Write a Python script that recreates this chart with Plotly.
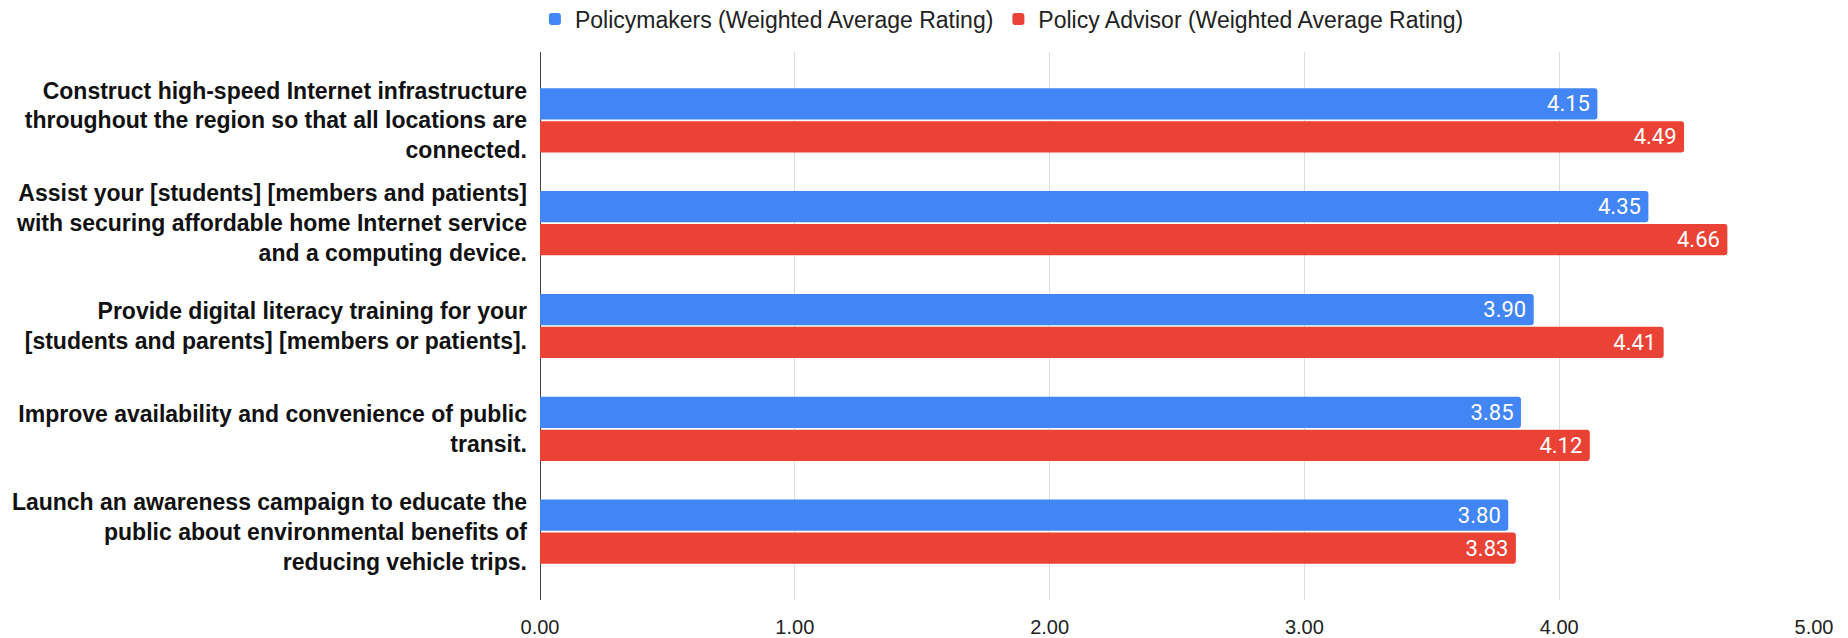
import plotly.graph_objects as go

# Survey strategies (top to bottom) and weighted average ratings
categories = [
    "Construct high-speed Internet infrastructure<br>throughout the region so that all locations are<br>connected.",
    "Assist your [students] [members and patients]<br>with securing affordable home Internet service<br>and a computing device.",
    "Provide digital literacy training for your<br>[students and parents] [members or patients].",
    "Improve availability and convenience of public<br>transit.",
    "Launch an awareness campaign to educate the<br>public about environmental benefits of<br>reducing vehicle trips.",
]
policymakers = [4.15, 4.35, 3.90, 3.85, 3.80]
policy_advisor = [4.49, 4.66, 4.41, 4.12, 3.83]
x_ticks = [0, 1, 2, 3, 4, 5]
x_tick_labels = ["0.00", "1.00", "2.00", "3.00", "4.00", "5.00"]

BLUE = "#4285F4"
RED = "#EA4335"
SANS = "Liberation Sans, Arial, sans-serif"

fig = go.Figure()
for name, vals, color in [
    ("Policymakers (Weighted Average Rating)", policymakers, BLUE),
    ("Policy Advisor (Weighted Average Rating)", policy_advisor, RED),
]:
    fig.add_trace(go.Bar(
        name=name,
        y=categories,
        x=vals,
        orientation="h",
        marker=dict(color=color, cornerradius=3, line=dict(width=0)),
        text=[f"{v:.2f}\u2009" for v in vals],
        textposition="inside",
        insidetextanchor="end",
        constraintext="none",
        textfont=dict(family="Roboto, sans-serif", size=22, color="white"),
        hoverinfo="skip",
    ))

fig.update_layout(
    width=1848,
    height=638,
    paper_bgcolor="white",
    plot_bgcolor="white",
    barmode="group",
    bargap=0.36,
    bargroupgap=0.05,
    margin=dict(l=540, r=34, t=52, b=38, autoexpand=False),
    showlegend=True,
    legend=dict(
        orientation="h",
        x=-0.004, xanchor="left",
        y=1.06, yanchor="middle",
        font=dict(family=SANS, size=23, color="#222222"),
        itemwidth=30,
        traceorder="normal",
        bgcolor="rgba(0,0,0,0)",
    ),
    xaxis=dict(
        range=[0, 5],
        tickvals=x_ticks,
        ticktext=x_tick_labels,
        showgrid=True,
        gridcolor="#DDDDDD",
        gridwidth=1,
        zeroline=True,
        zerolinecolor="#444444",
        zerolinewidth=1,
        showline=False,
        ticks="",
        automargin=False,
        ticklabelstandoff=13,
        tickfont=dict(family=SANS, size=20, color="#222222"),
    ),
    yaxis=dict(
        categoryorder="array",
        categoryarray=categories,
        range=[4.665, -0.665],
        showgrid=False,
        zeroline=False,
        showline=False,
        ticks="",
        automargin=False,
        ticklabelstandoff=12,
        tickfont=dict(family=SANS, size=23, color="#111111", weight="bold"),
    ),
)

fig.write_html("out.html")
